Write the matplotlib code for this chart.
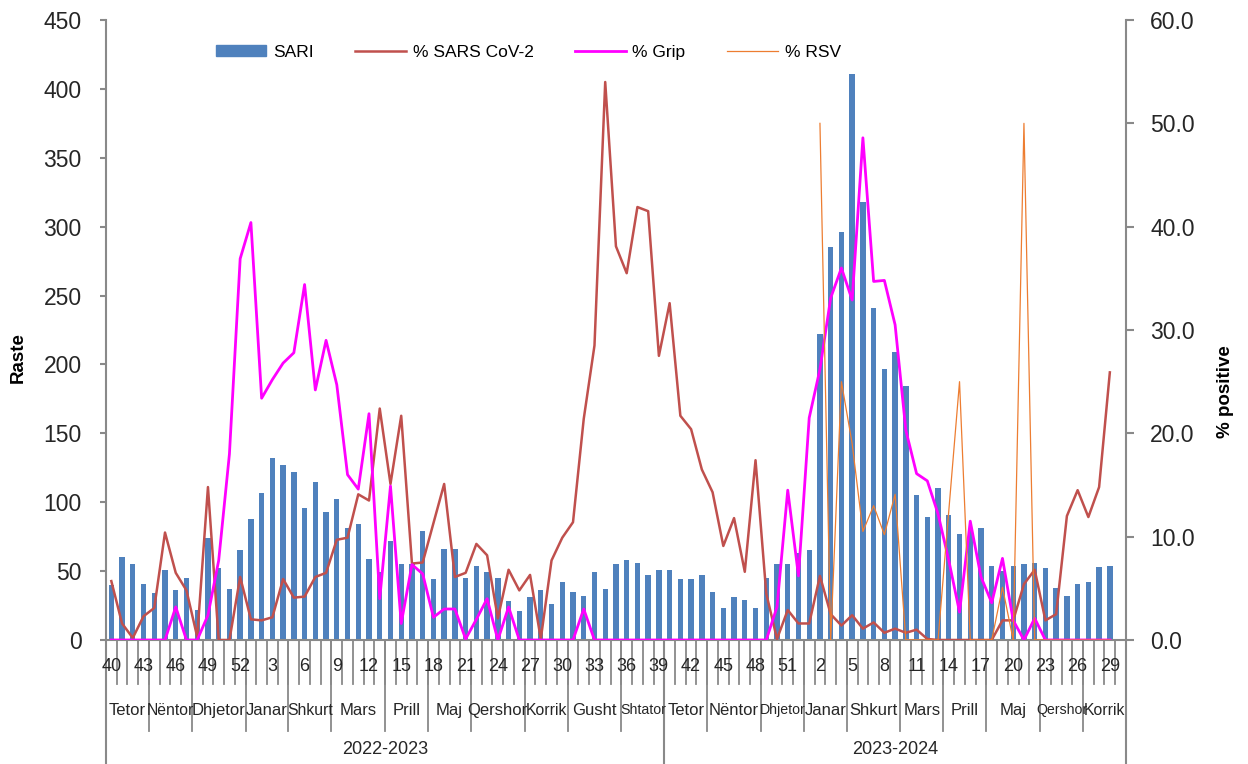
import matplotlib.pyplot as plt
import numpy as np
from matplotlib.patches import Patch, Rectangle
from matplotlib.lines import Line2D

plt.rcParams['font.family'] = ['Liberation Sans', 'DejaVu Sans']

nan = np.nan

# week numbers per season (last week of 2023-2024 is an empty slot)
weeks_2223 = list(range(40, 53)) + list(range(1, 40))
weeks_2324 = list(range(40, 53)) + list(range(1, 31))

# SARI cases
sari_2223 = [40, 60, 55, 41, 34, 51, 36, 45, 22, 74, 52, 37, 65,
             88, 107, 132, 127, 122, 96, 115, 93, 102, 81, 84, 59, 49, 72, 55, 55, 79,
             44, 66, 66, 45, 54, 49, 45, 28, 21, 31, 36, 26, 42, 35, 32, 49, 37, 55,
             58, 56, 47, 51]
sari_2324 = [51, 44, 44, 47, 35, 23, 31, 29, 23, 45, 55, 55, 63,
             65, 222, 285, 296, 411, 318, 241, 197, 209, 184, 105, 89, 110, 91, 77, 80, 81,
             54, 50, 54, 55, 56, 52, 38, 32, 41, 42, 53, 54, nan]

# % SARS CoV-2
cov_2223 = [5.7, 1.6, 0.2, 2.3, 3.1, 10.4, 6.5, 4.8, 0.3, 14.8, 0, 0, 6.1,
            2.0, 1.9, 2.2, 5.9, 4.1, 4.2, 6.1, 6.5, 9.7, 9.9, 14.1, 13.5, 22.4, 15.1, 21.7,
            7.4, 7.5, 11.3, 15.1, 6.1, 6.5, 9.3, 8.2, 2.1, 6.8, 4.8, 6.3, 0.1, 7.7, 9.9,
            11.4, 21.4, 28.5, 54.0, 38.1, 35.5, 41.9, 41.5, 27.5]
cov_2324 = [32.6, 21.7, 20.4, 16.5, 14.3, 9.1, 11.8, 6.6, 17.4, 4.5, 0.1, 2.9, 1.6,
            1.6, 6.2, 2.5, 1.4, 2.4, 1.1, 1.7, 0.7, 1.1, 0.7, 1.0, 0.1, 0, 0, 0, 0, 0,
            0, 1.9, 1.9, 5.4, 6.8, 1.9, 2.5, 12.0, 14.5, 11.9, 14.8, 25.9, nan]

# % Grip
grip_2223 = [0, 0, 0, 0, 0, 0, 3.2, 0, 0, 2.4, 7.7, 18.0, 36.9,
             40.4, 23.4, 25.2, 26.8, 27.8, 34.4, 24.2, 29.0, 24.7, 16.0, 14.6, 21.9, 4.0,
             14.9, 1.6, 7.3, 6.4, 2.2, 3.0, 3.0, 0.1, 2.0, 4.0, 0, 3.2, 0, 0, 0, 0, 0, 0,
             3.0, 0, 0, 0, 0, 0, 0, 0]
grip_2324 = [0, 0, 0, 0, 0, 0, 0, 0, 0, 0, 3.2, 14.5, 6.2,
             21.5, 26.2, 33.1, 36.0, 32.9, 48.6, 34.7, 34.8, 30.5, 20.3, 16.1, 15.4, 12.2,
             7.7, 2.7, 11.5, 6.1, 3.6, 7.9, 1.9, 0, 2.1, 0, 0, 0, 0, 0, 0, 0, nan]

# % RSV (reported from 2024 week 2)
rsv_2223 = [nan] * 52
rsv_2324 = [nan] * 14 + [50, 0, 25, 19, 10.5, 13, 10.2, 14.1, 0, 0, 0, 0, 12.5, 25,
                         0, 0, 0, 5.1, 0, 50, 0, 0, 0, 0, 0, 0, 0, 0, nan]

months_2223 = ["Tetor", "Nëntor", "Dhjetor", "Janar", "Shkurt", "Mars", "Prill", "Maj",
               "Qershor", "Korrik", "Gusht", "Shtator"]
month_len_2223 = [4, 4, 5, 4, 4, 5, 4, 4, 5, 4, 5, 4]
months_2324 = ["Tetor", "Nëntor", "Dhjetor", "Janar", "Shkurt", "Mars", "Prill", "Maj",
               "Qershor", "Korrik"]
month_len_2324 = [4, 5, 4, 4, 5, 4, 4, 5, 4, 4]
seasons = ["2022-2023", "2023-2024"]

weeks = weeks_2223 + weeks_2324
sari = np.array(sari_2223 + sari_2324, dtype=float)
cov = np.array(cov_2223 + cov_2324, dtype=float)
grip = np.array(grip_2223 + grip_2324, dtype=float)
rsv = np.array(rsv_2223 + rsv_2324, dtype=float)
x = np.arange(len(weeks))

c_bar = '#4F81BD'
c_cov = '#C0504D'
c_grip = '#FF00FF'
c_rsv = '#ED7D31'
c_axis = '#898989'
c_text = '#262626'

fig = plt.figure(figsize=(12.48, 7.64), dpi=100)
ax = fig.add_axes([0.0849, 0.1623, 0.8173, 0.8115])
ax2 = ax.twinx()

ax.bar(x, sari, 0.5, color=c_bar, zorder=2)
ax2.plot(x, cov, color=c_cov, lw=1.8)
ax2.plot(x, grip, color=c_grip, lw=2.0)
ax2.plot(x, rsv, color=c_rsv, lw=0.9)

ax.set_xlim(-0.5, len(x) - 0.5)
ax.set_ylim(0, 450)
ax.set_yticks(range(0, 451, 50))
ax2.set_ylim(0, 60)
ax2.set_yticks(range(0, 61, 10))
ax2.set_yticklabels([f"{v:.1f}" for v in range(0, 61, 10)])

for a in (ax, ax2):
    a.spines['top'].set_visible(False)
    for s in ('left', 'right', 'bottom'):
        a.spines[s].set_color(c_axis)
        a.spines[s].set_linewidth(1.5)
ax.spines['right'].set_visible(False)
ax2.spines['left'].set_visible(False)
ax2.spines['bottom'].set_visible(False)
ax.tick_params(axis='y', labelsize=16.5, length=4.5, width=1.5, color=c_axis, pad=13,
               labelcolor=c_text)
ax2.tick_params(axis='y', labelsize=16.5, length=5.5, width=1.5, color=c_axis, pad=12,
                labelcolor=c_text)
ax.set_xticks([])

ax.set_ylabel("Raste", fontsize=13.5, fontweight='bold')
ax.yaxis.set_label_coords(-0.078, 0.456)
ax2.set_ylabel("% positive", fontsize=13.5, fontweight='bold')
ax2.yaxis.set_label_coords(1.089, 0.40)

# multi-level category axis
tr = ax.get_xaxis_transform()
for b in np.arange(len(x) + 1) - 0.5:
    ax.plot([b, b], [0, -0.071], transform=tr, color=c_axis, lw=1.3, clip_on=False)
for i in range(0, len(x) - 1, 3):
    ax.text(i, -0.0435, str(weeks[i]), transform=tr, ha='center', va='center',
            fontsize=13, color=c_text)

start = 0
for names, lens in ((months_2223, month_len_2223), (months_2324, month_len_2324)):
    for name, n in zip(names, lens):
        ax.plot([start - 0.5, start - 0.5], [0, -0.147], transform=tr, color=c_axis,
                lw=1.3, clip_on=False)
        if len(name) <= 5 or n >= 5:
            fs = 12
        elif len(name) == 6:
            fs = 11.3
        else:
            fs = 10.2
        t = ax.text(start + n / 2 - 0.5, -0.113, name, transform=tr, ha='center',
                    va='center', fontsize=fs, color=c_text)
        box = Rectangle((start - 0.55, -0.147), n + 0.1, 0.07, transform=tr)
        t.set_clip_path(box)
        start += n

bounds = [-0.5, len(weeks_2223) - 0.5, len(x) - 0.5]
for b in bounds:
    ax.plot([b, b], [0, -0.21], transform=tr, color=c_axis, lw=1.5, clip_on=False)
for k, name in enumerate(seasons):
    ax.text((bounds[k] + bounds[k + 1]) / 2, -0.177, name, transform=tr, ha='center',
            va='center', fontsize=13, color=c_text)

handles = [Patch(color=c_bar, label='SARI'),
           Line2D([], [], color=c_cov, lw=1.8, label='% SARS CoV-2'),
           Line2D([], [], color=c_grip, lw=2.0, label='% Grip'),
           Line2D([], [], color=c_rsv, lw=0.9, label='% RSV')]
ax2.legend(handles=handles, loc='center', bbox_to_anchor=(0.414, 0.948), ncol=4,
           frameon=False, fontsize=12.5, handlelength=2.9, handleheight=0.6,
           columnspacing=2.4, handletextpad=0.4)

fig.savefig('out.png', dpi=100)
